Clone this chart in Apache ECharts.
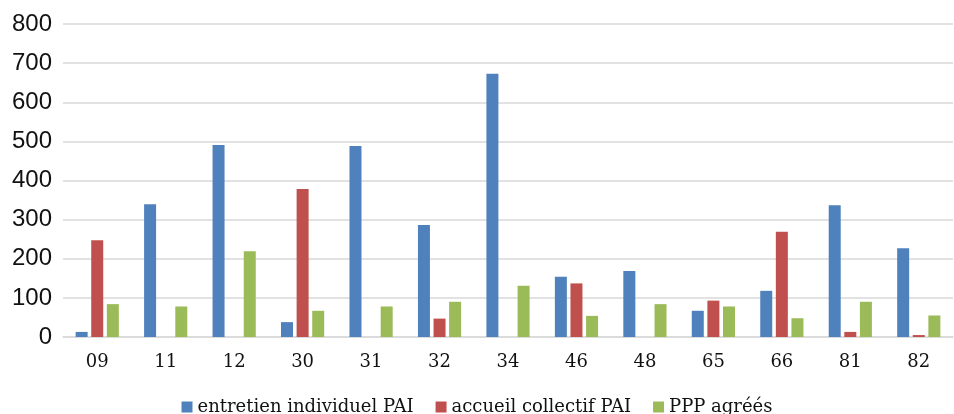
<!DOCTYPE html>
<html>
<head>
<meta charset="utf-8">
<script src="https://cdn.jsdelivr.net/npm/echarts@6/dist/echarts.min.js"></script>
<style>
  html, body { margin: 0; padding: 0; background: #fff; }
  #chart { width: 954px; height: 414px; }
</style>
</head>
<body>
<div id="chart"></div>
<script>
var departements = ['09', '11', '12', '30', '31', '32', '34', '46', '48', '65', '66', '81', '82'];
var entretienIndividuel = [13, 339, 491, 38, 488, 286, 673, 154, 169, 67, 118, 337, 227];
var accueilCollectif = [247, 0, 0, 378, 0, 47, 0, 137, 0, 93, 269, 13, 5];
var pppAgrees = [84, 78, 219, 67, 78, 90, 131, 54, 84, 78, 48, 90, 55];
var seriesNames = ['entretien individuel PAI', 'accueil collectif PAI', 'PPP agréés'];
var colors = ['#4F81BD', '#C0504D', '#9BBB59'];

function barSeries(name, data, color) {
  return {
    name: name,
    type: 'bar',
    data: data,
    barWidth: 12,
    barGap: '30%',
    itemStyle: { color: color }
  };
}

var chart = echarts.init(document.getElementById('chart'));
chart.setOption({
  animation: false,
  grid: { left: 63, right: 1, top: 24, bottom: 77 },
  legend: {
    data: seriesNames,
    left: 'center',
    top: 393,
    itemWidth: 11,
    itemHeight: 11,
    itemGap: 22,
    icon: 'rect',
    textStyle: { fontFamily: 'DejaVu Serif', fontSize: 18, color: '#111' }
  },
  xAxis: {
    type: 'category',
    data: departements,
    axisTick: { show: false },
    axisLine: { lineStyle: { color: '#d9d9d9', width: 1.5 } },
    axisLabel: { fontFamily: 'DejaVu Serif', fontSize: 18, color: '#111', margin: 16 }
  },
  yAxis: {
    type: 'value',
    min: 0,
    max: 800,
    interval: 100,
    axisLine: { show: false },
    axisTick: { show: false },
    splitLine: { lineStyle: { color: '#d9d9d9', width: 1.5 } },
    axisLabel: { fontFamily: 'Liberation Sans', fontSize: 24, color: '#111', margin: 11 }
  },
  series: [
    barSeries(seriesNames[0], entretienIndividuel, colors[0]),
    barSeries(seriesNames[1], accueilCollectif, colors[1]),
    barSeries(seriesNames[2], pppAgrees, colors[2])
  ]
});
</script>
</body>
</html>
